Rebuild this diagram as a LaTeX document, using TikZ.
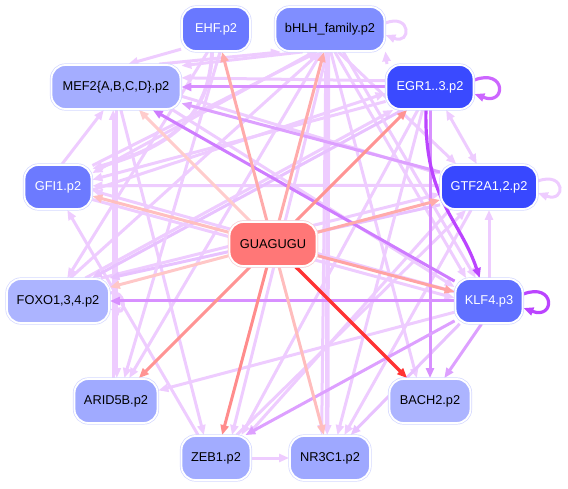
\documentclass[tikz,border=0pt]{standalone}
\usepackage{fontspec}
\setmainfont{Liberation Sans}
\usetikzlibrary{arrows.meta}
\pgfdeclarelayer{bg}
\pgfsetlayers{bg,main}
\definecolor{cEHF}{HTML}{6978FF}
\definecolor{cBHLH}{HTML}{808EFF}
\definecolor{cMEF}{HTML}{A4ADFF}
\definecolor{cEGR}{HTML}{3A4AFF}
\definecolor{cGFI}{HTML}{6C7AFF}
\definecolor{cGTF}{HTML}{3848FF}
\definecolor{cGUA}{HTML}{FF7777}
\definecolor{cFOXO}{HTML}{ACB4FF}
\definecolor{cKLF}{HTML}{6070FF}
\definecolor{cARID}{HTML}{A0AAFF}
\definecolor{cBACH}{HTML}{ACB4FF}
\definecolor{cZEB}{HTML}{A2ACFF}
\definecolor{cNR}{HTML}{9EA8FF}
\definecolor{nodeline}{HTML}{D4D8FF}
\definecolor{gualine}{HTML}{FFD4D4}
\definecolor{lp}{HTML}{EECCFF}
\definecolor{lpb}{HTML}{E8C2FF}
\definecolor{mp}{HTML}{DDA0FF}
\definecolor{mpb}{HTML}{D890FF}
\definecolor{mpc}{HTML}{CE7CFF}
\definecolor{dpa}{HTML}{CC66FF}
\definecolor{dpb}{HTML}{BB44FF}
\begin{document}
\begin{tikzpicture}[x=1pt,y=-1pt,
  tf/.style={rectangle, rounded corners=14pt, minimum height=44pt, inner sep=2pt,
    draw=white, line width=1.8pt, preaction={draw=nodeline, line width=3.2pt},
    font=\fontsize{12.8}{15}\selectfont},
  tip/.tip={Triangle[length=10pt,width=8pt]},
  le/.style={draw=lp, line width=3pt, -tip},
  lb/.style={draw=lpb, line width=3pt, -tip},
  lbi/.style={draw=lp, line width=3pt, tip-tip},
  me/.style={draw=mp, line width=3pt, -tip},
  mb/.style={draw=mpb, line width=3pt, -tip},
  mc/.style={draw=mpc, line width=3pt, -tip},
  da/.style={draw=dpa, line width=3.2pt, -tip},
  db/.style={draw=dpb, line width=3.2pt, -tip},
  re/.style={line width=3pt, -tip}]
\useasboundingbox (0,0) rectangle (568,489);

\node[tf, fill=cEHF, text=white, minimum width=68pt] (ehf) at (216,29) {EHF.p2};
\node[tf, fill=cBHLH, minimum width=109pt] (bhlh) at (330,29) {bHLH\_family.p2};
\node[tf, fill=cMEF, minimum width=129pt] (mef2) at (116,87) {MEF2\{A,B,C,D\}.p2};
\node[tf, fill=cEGR, text=white, minimum width=87pt] (egr) at (430,87) {EGR1..3.p2};
\node[tf, fill=cGFI, text=white, minimum width=67pt] (gfi1) at (58,187) {GFI1.p2};
\node[tf, fill=cGTF, text=white, minimum width=96pt] (gtf2a) at (489,187) {GTF2A1,2.p2};
\node[tf, fill=cGUA, preaction={draw=gualine, line width=3.2pt}, minimum width=87pt] (gua) at (273,244) {GUAGUGU};
\node[tf, fill=cFOXO, minimum width=102pt] (foxo) at (58,301) {FOXO1,3,4.p2};
\node[tf, fill=cKLF, text=white, minimum width=67pt] (klf4) at (489,301) {KLF4.p3};
\node[tf, fill=cARID, minimum width=83pt] (arid5b) at (116,401) {ARID5B.p2};
\node[tf, fill=cBACH, minimum width=81pt] (bach2) at (430,401) {BACH2.p2};
\node[tf, fill=cZEB, minimum width=69pt] (zeb1) at (216,458) {ZEB1.p2};
\node[tf, fill=cNR, minimum width=80pt] (nr3c1) at (330,458) {NR3C1.p2};

\begin{pgfonlayer}{bg}
% self loops
\draw[le] ([yshift=6pt]bhlh.east) .. controls +(26,-10) and +(26,10) .. ([yshift=-6pt]bhlh.east);
\draw[le] ([yshift=6pt]gtf2a.east) .. controls +(28,-10) and +(28,10) .. ([yshift=-6pt]gtf2a.east);
\draw[le] ([yshift=8pt]foxo.east) .. controls +(16,-4) and +(16,4) .. ([yshift=-8pt]foxo.east);
\draw[da] ([yshift=7pt]egr.east) .. controls +(32,-12) and +(32,12) .. ([yshift=-7pt]egr.east);
\draw[db] ([yshift=7pt]klf4.east) .. controls +(32,-12) and +(32,12) .. ([yshift=-7pt]klf4.east);

% light edges
\draw[le, line width=4.5pt] (bhlh.-95) -- (nr3c1.97);
\draw[le] (bhlh.-100) -- (nr3c1.110);
\draw[le] (bhlh.-97) -- (zeb1.55);
\draw[le] (bhlh.-88) -- (bach2.120);
\draw[le] (bhlh.-78) -- (klf4.135);
\draw[le] (bhlh.-110) -- (arid5b.60);
\draw[le] (bhlh.-70) -- (gtf2a.145);
\draw[le] (bhlh.-125) -- (gfi1.22);
\draw[le] (bhlh.-140) -- (mef2.18);
\draw[le] (mef2.28) -- (bhlh.-155);
\draw[le] (gfi1.32) -- (bhlh.-118);
\draw[le] (foxo.62) -- (bhlh.-112);
\draw[le] (ehf.-150) -- (mef2.62);
\draw[le] (ehf.-110) -- (foxo.68);
\draw[le, line width=4pt] (ehf.-100) .. controls +(-2,70) and +(70,-20) .. (gfi1.28);
\draw[le] (gfi1.80) -- (mef2.-118);
\draw[le] (arid5b.97) -- (mef2.-97);
\draw[le] (mef2.-88) -- (arid5b.88);
\draw[le] (mef2.-78) -- (zeb1.118);
\draw[le] (zeb1.128) -- (gfi1.-68);
\draw[le] (zeb1.east) -- (nr3c1.west);
\draw[le] (zeb1.48) -- (gtf2a.-135);
\draw[le] (egr.152) -- (bhlh.-22);
\draw[lbi] (egr.-55) -- (gtf2a.118);
\draw[le] (klf4.north) -- (gtf2a.south);
\draw[le] (gtf2a.178) -- (gfi1.2);
\draw[le] (klf4.165) -- (gfi1.-6);
\draw[le] (egr.-162) -- (gfi1.12);
\draw[le] (gfi1.-5) -- (egr.-172);
\draw[le] (mef2.-8) -- (gtf2a.165);
\draw[le] (foxo.28) -- (gtf2a.-172);
\draw[le] (foxo.40) -- (egr.-148);
\draw[lb] (egr.-140) -- (foxo.34);
\draw[lb] (gtf2a.-160) -- (foxo.24);
\draw[le] (egr.-118) -- (zeb1.42);
\draw[le] (gtf2a.-150) -- (zeb1.36);
\draw[le] (egr.-108) -- (nr3c1.72);
\draw[le] (gtf2a.-128) -- (nr3c1.58);
\draw[le] (klf4.-162) -- (arid5b.14);
\draw[lb] (klf4.-142) -- (nr3c1.48);
\draw[le] (mef2.-22) -- (klf4.158);
\draw[le] (ehf.-80) -- (arid5b.70);
\draw[le] (egr.172) -- (mef2.8);
\draw[le] (bhlh.-60) -- (klf4.120);
\draw[le] (gfi1.-20) -- (klf4.175);

% medium / dark edges
\draw[me] (gtf2a.163) -- (mef2.-14);
\draw[mb] (egr.west) -- (mef2.east);
\draw[mb] (egr.south) -- (bach2.north);
\draw[mb] (klf4.west) -- (foxo.east);
\draw[mc] (klf4.150) -- (mef2.-32);
\draw[me] (klf4.-108) -- (bach2.58);
\draw[me] (klf4.-150) -- (zeb1.38);
\draw[db] (egr.-100) .. controls +(-2,90) and +(-20,-60) .. (klf4.112);

% GUAGUGU edges
\draw[re, draw=red!33!white] (gua) -- (ehf);
\draw[re, draw=red!33!white] (gua) -- (bhlh);
\draw[re, draw=red!20!white] (gua) -- (mef2);
\draw[re, draw=red!42!white] (gua) -- (egr);
\draw[re, draw=red!25!white] (gua) -- (gfi1);
\draw[re, draw=red!33!white] (gua) -- (gtf2a);
\draw[re, draw=red!22!white] (gua) -- (foxo);
\draw[re, draw=red!36!white] (gua) -- (klf4);
\draw[re, draw=red!42!white] (gua) -- (arid5b);
\draw[re, draw=red!45!white] (gua) -- (zeb1);
\draw[re, draw=red!26!white] (gua) -- (nr3c1);
\draw[re, draw=red!80!white, line width=3.5pt] (gua) -- (bach2);
\end{pgfonlayer}
\end{tikzpicture}
\end{document}
